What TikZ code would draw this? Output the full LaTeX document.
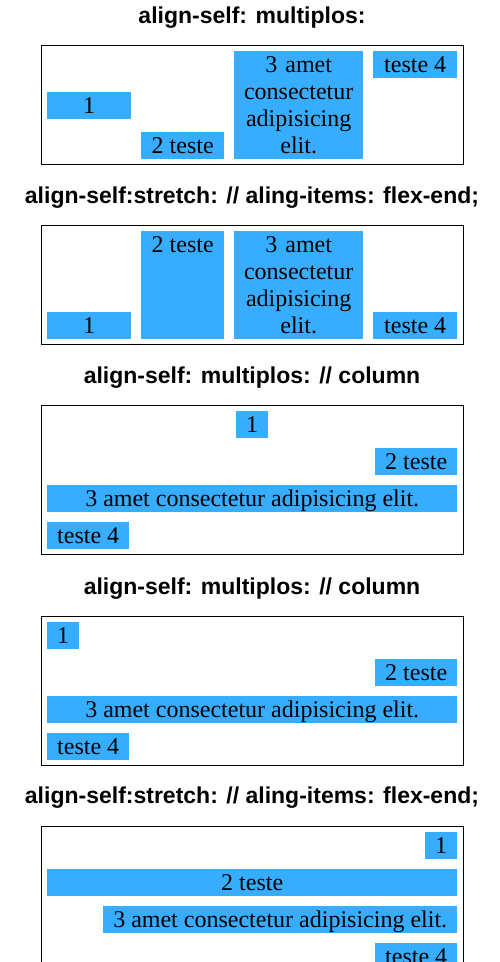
\documentclass[tikz,border=0pt]{standalone}
\usepackage{fontspec}
\setmainfont{Liberation Serif}
\setsansfont{Liberation Sans}
\usepackage{xcolor}
\usetikzlibrary{positioning}

\definecolor{itemblue}{RGB}{54,173,255}

\tikzset{
  frame/.style={draw=black, line width=1pt},
  title/.style={anchor=base, inner sep=0pt, font=\sffamily\bfseries\fontsize{23}{27}\selectfont},
  item/.style={fill=itemblue, anchor=north west, inner sep=0pt,
    font=\fontsize{24}{27}\selectfont},
  oneline/.style={text height=21.3pt, text depth=5.4pt},
  tall/.style={align=center, text width=129pt, minimum height=107.7pt}
}

\begin{document}
\begin{tikzpicture}[x=1pt, y=-1pt]
  \useasboundingbox (0,0) rectangle (500,962);

  %--- row, mixed align-self ---
  \begin{scope}[shift={(0,0)}]
    \node[title] (t1) at (252,23.3) {align-self: multiplos:};
    \draw[frame] (41,45) rectangle (463,164);
    \node[item, oneline, minimum width=84pt] (r1a) at (47,92) {1};
    \node[item, oneline, minimum width=83pt] (r1b) at (141,132) {2 teste};
    \node[item, tall] (r1c) at (234,51) {3 amet\\consectetur\\adipisicing\\elit.};
    \node[item, oneline, minimum width=84pt] (r1d) at (373,51) {teste 4};
  \end{scope}

  %--- row, stretch + flex-end ---
  \begin{scope}[shift={(0,180)}]
    \node[title] (t2) at (252,23.3) {align-self:stretch: // aling-items: flex-end;};
    \draw[frame] (41,45) rectangle (463,164);
    \node[item, oneline, minimum width=84pt] (r2a) at (47,132) {1};
    \node[item, oneline, text depth=86.4pt, minimum width=83pt] (r2b) at (141,51) {2 teste};
    \node[item, tall] (r2c) at (234,51) {3 amet\\consectetur\\adipisicing\\elit.};
    \node[item, oneline, minimum width=84pt] (r2d) at (373,132) {teste 4};
  \end{scope}

  %--- column, centre first ---
  \begin{scope}[shift={(0,360)}]
    \node[title] (t3) at (252,23.3) {align-self: multiplos: // column};
    \draw[frame] (41,45) rectangle (463,194);
    \node[item, oneline, minimum width=32pt] (c1a) at (236,51) {1};
    \node[item, oneline, minimum width=82pt] (c1b) at (375,88) {2 teste};
    \node[item, oneline, minimum width=410pt] (c1c) at (47,125) {3 amet consectetur adipisicing elit.};
    \node[item, oneline, minimum width=82pt] (c1d) at (47,162) {teste 4};
  \end{scope}

  %--- column, start first ---
  \begin{scope}[shift={(0,571)}]
    \node[title] (t4) at (252,23.3) {align-self: multiplos: // column};
    \draw[frame] (41,45) rectangle (463,194);
    \node[item, oneline, minimum width=32pt] (c2a) at (47,51) {1};
    \node[item, oneline, minimum width=82pt] (c2b) at (375,88) {2 teste};
    \node[item, oneline, minimum width=410pt] (c2c) at (47,125) {3 amet consectetur adipisicing elit.};
    \node[item, oneline, minimum width=82pt] (c2d) at (47,162) {teste 4};
  \end{scope}

  %--- column, stretch + flex-end (runs off the page) ---
  \begin{scope}[shift={(0,781)}]
    \node[title] (t5) at (252,22.3) {align-self:stretch: // aling-items: flex-end;};
    \draw[frame] (41,45) rectangle (463,230);
    \node[item, oneline, minimum width=32pt] (c3a) at (425,51) {1};
    \node[item, oneline, minimum width=410pt] (c3b) at (47,88) {2 teste};
    \node[item, oneline, minimum width=354pt] (c3c) at (103,125) {3 amet consectetur adipisicing elit.};
    \node[item, oneline, minimum width=82pt] (c3d) at (375,162) {teste 4};
  \end{scope}
\end{tikzpicture}
\end{document}
